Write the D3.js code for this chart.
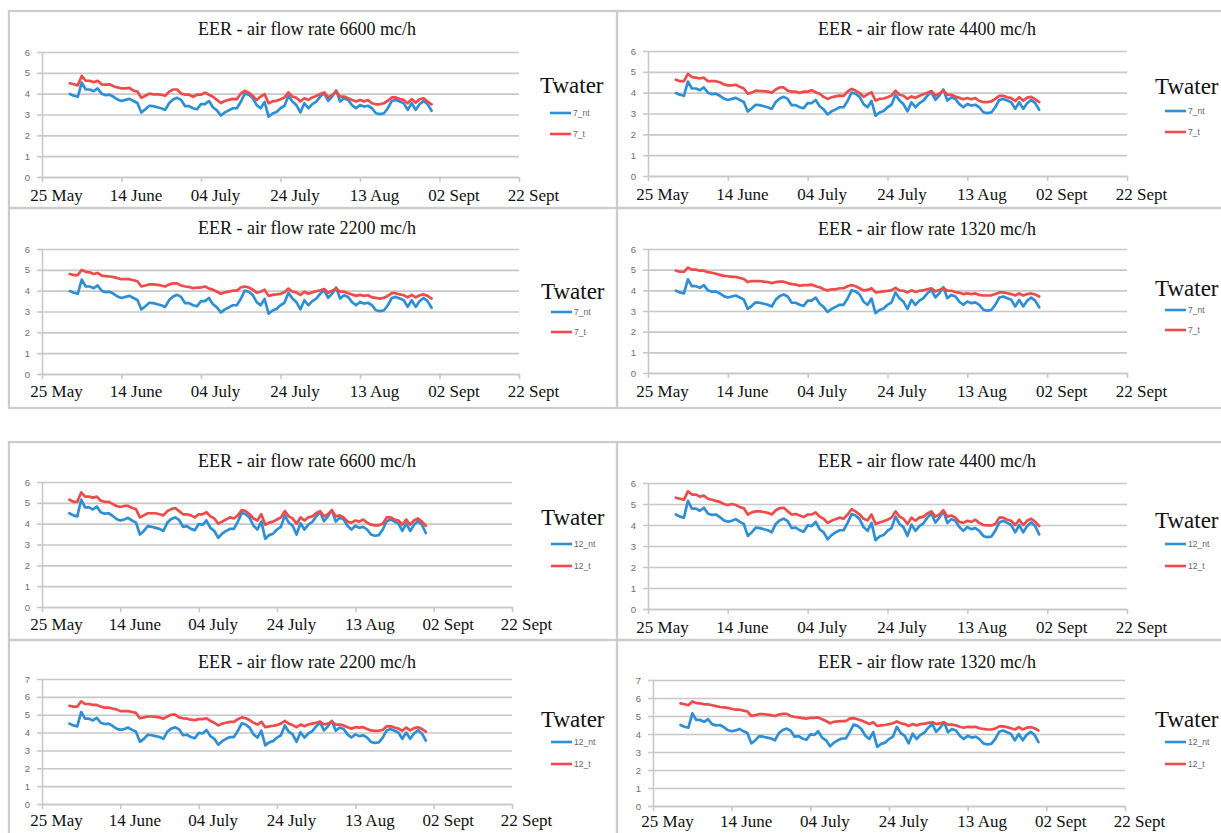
<!DOCTYPE html>
<html>
<head>
<meta charset="utf-8">
<script src="https://cdn.jsdelivr.net/npm/d3@7"></script>
<style>
  body { margin: 0; background: #fff; }
  svg { display: block; }
</style>
</head>
<body>
<svg id="chart" width="1221" height="833"></svg>
<script>
// x axis: day ticks every 20 days, data daily from 1 June
const firstDay = "2015-06-01";
const tickDays = ["2015-05-25", "2015-06-14", "2015-07-04", "2015-07-24", "2015-08-13", "2015-09-02", "2015-09-22"];
const tickLabels = ["25 May", "14 June", "04 July", "24 July", "13 Aug", "02 Sept", "22 Sept"];

const flowRates = [6600, 4400, 2200, 1320, 6600, 4400, 2200, 1320];
const seriesNames = [["7_nt", "7_t"], ["12_nt", "12_t"]];

// Twater 7 - not treated (same in all four top panels)
const nt7 = [
  3.98, 3.90, 3.85, 4.53, 4.20, 4.20, 4.12, 4.25, 4.00, 3.93,
  3.95, 3.85, 3.72, 3.65, 3.70, 3.75, 3.65, 3.55, 3.10, 3.25,
  3.42, 3.40, 3.35, 3.30, 3.22, 3.55, 3.72, 3.80, 3.70, 3.40,
  3.40, 3.30, 3.25, 3.50, 3.50, 3.65, 3.35, 3.20, 2.95, 3.10,
  3.20, 3.30, 3.30, 3.60, 4.00, 3.95, 3.80, 3.45, 3.30, 3.60,
  2.90, 3.05, 3.12, 3.30, 3.42, 3.90, 3.62, 3.45, 3.10, 3.54,
  3.30, 3.50, 3.62, 3.86, 4.02, 3.66, 3.86, 4.15, 3.62, 3.78,
  3.70, 3.45, 3.30, 3.46, 3.38, 3.42, 3.30, 3.06, 3.02, 3.05,
  3.30, 3.65, 3.70, 3.62, 3.54, 3.22, 3.54, 3.22, 3.50, 3.65,
  3.50, 3.18
];

const t7_6600 = [
  4.50, 4.45, 4.40, 4.85, 4.62, 4.62, 4.55, 4.62, 4.45, 4.43,
  4.45, 4.36, 4.30, 4.25, 4.25, 4.28, 4.15, 4.10, 3.80, 3.90,
  4.00, 3.97, 3.97, 3.95, 3.90, 4.10, 4.20, 4.20, 4.00, 3.95,
  3.95, 3.85, 3.95, 3.95, 4.05, 3.95, 3.85, 3.70, 3.55, 3.65,
  3.70, 3.75, 3.73, 4.00, 4.14, 4.05, 3.90, 3.70, 3.86, 3.98,
  3.54, 3.63, 3.66, 3.73, 3.82, 4.06, 3.86, 3.80, 3.63, 3.78,
  3.70, 3.82, 3.89, 3.98, 4.06, 3.82, 3.94, 4.10, 3.86, 3.86,
  3.78, 3.70, 3.62, 3.70, 3.63, 3.70, 3.54, 3.49, 3.49, 3.54,
  3.66, 3.82, 3.82, 3.74, 3.70, 3.54, 3.74, 3.57, 3.73, 3.78,
  3.62, 3.49
];

const t7_4400 = [
  4.62, 4.55, 4.55, 4.90, 4.75, 4.72, 4.68, 4.72, 4.55, 4.55,
  4.55, 4.50, 4.40, 4.35, 4.35, 4.38, 4.28, 4.20, 3.95, 4.00,
  4.10, 4.08, 4.07, 4.05, 4.00, 4.15, 4.25, 4.25, 4.10, 4.05,
  4.05, 3.98, 4.05, 4.05, 4.12, 4.02, 3.95, 3.80, 3.70, 3.78,
  3.82, 3.86, 3.85, 4.05, 4.18, 4.10, 3.98, 3.80, 3.92, 4.02,
  3.62, 3.70, 3.72, 3.78, 3.86, 4.10, 3.90, 3.85, 3.70, 3.82,
  3.75, 3.85, 3.92, 4.00, 4.08, 3.86, 3.96, 4.10, 3.90, 3.90,
  3.82, 3.75, 3.68, 3.74, 3.68, 3.74, 3.60, 3.55, 3.55, 3.58,
  3.70, 3.85, 3.85, 3.78, 3.74, 3.60, 3.78, 3.62, 3.76, 3.80,
  3.68, 3.55
];

const t7_2200 = [
  4.80, 4.75, 4.75, 5.00, 4.90, 4.88, 4.80, 4.85, 4.72, 4.70,
  4.68, 4.65, 4.60, 4.55, 4.55, 4.55, 4.50, 4.45, 4.20, 4.25,
  4.30, 4.30, 4.28, 4.25, 4.20, 4.30, 4.35, 4.35, 4.25, 4.20,
  4.18, 4.12, 4.15, 4.15, 4.20, 4.10, 4.05, 3.95, 3.85, 3.92,
  3.95, 4.00, 4.00, 4.15, 4.20, 4.15, 4.05, 3.90, 3.95, 4.05,
  3.75, 3.80, 3.82, 3.85, 3.92, 4.10, 3.95, 3.92, 3.80, 3.95,
  3.85, 3.92, 3.97, 4.02, 4.08, 3.90, 4.00, 4.10, 3.95, 3.95,
  3.88, 3.82, 3.75, 3.80, 3.75, 3.78, 3.68, 3.65, 3.62, 3.65,
  3.75, 3.88, 3.88, 3.82, 3.78, 3.68, 3.80, 3.68, 3.78, 3.82,
  3.75, 3.62
];

const t7_1320 = [
  4.95, 4.90, 4.90, 5.10, 5.00, 5.00, 4.95, 4.95, 4.88, 4.85,
  4.80, 4.75, 4.70, 4.68, 4.65, 4.65, 4.60, 4.55, 4.40, 4.45,
  4.45, 4.45, 4.42, 4.40, 4.35, 4.40, 4.42, 4.42, 4.35, 4.30,
  4.28, 4.22, 4.25, 4.25, 4.28, 4.20, 4.15, 4.05, 4.00, 4.05,
  4.05, 4.10, 4.10, 4.20, 4.25, 4.20, 4.10, 4.00, 4.02, 4.10,
  3.90, 3.92, 3.95, 3.97, 4.00, 4.12, 4.00, 3.98, 3.90, 4.00,
  3.92, 3.98, 4.00, 4.05, 4.10, 3.95, 4.02, 4.10, 3.98, 3.98,
  3.92, 3.88, 3.82, 3.85, 3.82, 3.85, 3.78, 3.75, 3.75, 3.76,
  3.82, 3.90, 3.90, 3.86, 3.82, 3.75, 3.85, 3.75, 3.82, 3.85,
  3.80, 3.70
];

// Twater 12 - not treated (same in all four bottom panels)
const nt12 = [
  4.50, 4.40, 4.35, 5.15, 4.78, 4.78, 4.68, 4.82, 4.55, 4.48,
  4.50, 4.38, 4.22, 4.15, 4.20, 4.28, 4.15, 4.05, 3.48, 3.65,
  3.88, 3.85, 3.80, 3.75, 3.65, 4.05, 4.22, 4.30, 4.18, 3.85,
  3.88, 3.75, 3.68, 3.98, 3.95, 4.15, 3.80, 3.65, 3.32, 3.52,
  3.65, 3.75, 3.75, 4.10, 4.52, 4.45, 4.28, 3.90, 3.72, 4.10,
  3.28, 3.45, 3.52, 3.72, 3.85, 4.40, 4.05, 3.90, 3.48, 4.02,
  3.72, 3.95, 4.08, 4.35, 4.55, 4.12, 4.35, 4.65, 4.10, 4.28,
  4.20, 3.90, 3.72, 3.90, 3.80, 3.85, 3.72, 3.48, 3.42, 3.45,
  3.72, 4.12, 4.20, 4.10, 4.00, 3.65, 4.00, 3.65, 3.95, 4.12,
  3.95, 3.55
];

const t12_6600 = [
  5.15, 5.05, 5.05, 5.50, 5.30, 5.30, 5.25, 5.30, 5.10, 5.05,
  5.05, 4.95, 4.85, 4.80, 4.85, 4.85, 4.75, 4.70, 4.30, 4.40,
  4.50, 4.50, 4.50, 4.45, 4.40, 4.60, 4.70, 4.75, 4.60, 4.45,
  4.45, 4.40, 4.30, 4.45, 4.45, 4.55, 4.35, 4.25, 4.00, 4.10,
  4.20, 4.30, 4.25, 4.40, 4.65, 4.60, 4.45, 4.25, 4.15, 4.45,
  3.95, 4.05, 4.10, 4.20, 4.30, 4.60, 4.35, 4.25, 4.00, 4.30,
  4.15, 4.30, 4.35, 4.50, 4.60, 4.35, 4.45, 4.65, 4.35, 4.40,
  4.30, 4.10, 4.05, 4.15, 4.10, 4.20, 4.05, 3.95, 3.92, 3.92,
  4.00, 4.30, 4.30, 4.20, 4.15, 3.95, 4.20, 3.95, 4.15, 4.25,
  4.10, 3.90
];

const t12_4400 = [
  5.30, 5.25, 5.20, 5.60, 5.45, 5.45, 5.35, 5.40, 5.25, 5.20,
  5.15, 5.10, 5.00, 4.95, 5.00, 4.95, 4.85, 4.80, 4.50, 4.60,
  4.65, 4.65, 4.62, 4.58, 4.50, 4.70, 4.80, 4.82, 4.65, 4.50,
  4.52, 4.45, 4.38, 4.50, 4.50, 4.60, 4.40, 4.30, 4.10, 4.20,
  4.28, 4.35, 4.30, 4.50, 4.75, 4.65, 4.50, 4.30, 4.22, 4.50,
  4.05, 4.12, 4.18, 4.25, 4.35, 4.65, 4.40, 4.30, 4.05, 4.35,
  4.20, 4.35, 4.40, 4.55, 4.65, 4.40, 4.50, 4.70, 4.40, 4.45,
  4.35, 4.15, 4.10, 4.20, 4.15, 4.25, 4.10, 4.00, 3.98, 3.98,
  4.05, 4.35, 4.35, 4.25, 4.20, 4.00, 4.25, 4.00, 4.20, 4.30,
  4.15, 3.95
];

const t12_2200 = [
  5.50, 5.45, 5.45, 5.75, 5.60, 5.60, 5.55, 5.55, 5.45, 5.40,
  5.40, 5.35, 5.30, 5.20, 5.20, 5.20, 5.15, 5.10, 4.80, 4.85,
  4.90, 4.90, 4.88, 4.85, 4.78, 4.90, 5.00, 5.00, 4.85, 4.80,
  4.78, 4.72, 4.70, 4.75, 4.75, 4.80, 4.65, 4.55, 4.40, 4.50,
  4.55, 4.60, 4.60, 4.75, 4.85, 4.80, 4.70, 4.55, 4.45, 4.60,
  4.30, 4.35, 4.38, 4.42, 4.50, 4.65, 4.50, 4.42, 4.30, 4.45,
  4.35, 4.45, 4.50, 4.55, 4.62, 4.45, 4.50, 4.62, 4.45, 4.45,
  4.40, 4.30, 4.22, 4.30, 4.28, 4.30, 4.20, 4.12, 4.10, 4.10,
  4.15, 4.35, 4.35, 4.28, 4.22, 4.10, 4.28, 4.12, 4.25, 4.30,
  4.20, 4.05
];

const t12_1320 = [
  5.70, 5.65, 5.60, 5.80, 5.72, 5.70, 5.65, 5.65, 5.60, 5.55,
  5.50, 5.48, 5.45, 5.40, 5.35, 5.35, 5.30, 5.25, 5.00, 5.05,
  5.10, 5.10, 5.08, 5.05, 5.00, 5.08, 5.12, 5.12, 5.00, 4.95,
  4.92, 4.88, 4.85, 4.90, 4.90, 4.92, 4.82, 4.72, 4.60, 4.68,
  4.70, 4.72, 4.72, 4.85, 4.88, 4.82, 4.75, 4.65, 4.55, 4.65,
  4.45, 4.48, 4.50, 4.55, 4.60, 4.70, 4.60, 4.55, 4.45, 4.55,
  4.48, 4.55, 4.58, 4.62, 4.65, 4.55, 4.60, 4.65, 4.52, 4.52,
  4.48, 4.40, 4.35, 4.40, 4.38, 4.40, 4.32, 4.28, 4.25, 4.25,
  4.30, 4.42, 4.42, 4.38, 4.32, 4.25, 4.38, 4.25, 4.35, 4.38,
  4.32, 4.20
];

const tSeries = [t7_6600, t7_4400, t7_2200, t7_1320, t12_6600, t12_4400, t12_2200, t12_1320];

// panel layout (box: x, y, w, h; plot: left, right, top, bottom)
const layout = [
  { box: [9, 11, 608, 197],   plot: [42, 519, 52, 177],   ymax: 6, pad: 7, titleX: 307, titleY: 35,  leg: [540, 93, 113, 134] },
  { box: [617, 11, 620, 197], plot: [648, 1127, 51, 176], ymax: 6, pad: 7, titleX: 927, titleY: 35,  leg: [1155, 94, 111, 132] },
  { box: [9, 208, 608, 200],  plot: [42, 519, 249, 374],  ymax: 6, pad: 6, titleX: 307, titleY: 234, leg: [541, 299, 312, 332] },
  { box: [617, 208, 620, 200],plot: [648, 1127, 249, 373],ymax: 6, pad: 7, titleX: 927, titleY: 235, leg: [1155, 296, 310, 330] },
  { box: [9, 442, 608, 198],  plot: [42, 512, 482, 607],  ymax: 6, pad: 6, titleX: 307, titleY: 467, leg: [541, 525, 544, 566] },
  { box: [617, 442, 620, 198],plot: [648, 1127, 483, 609],ymax: 6, pad: 7, titleX: 927, titleY: 467, leg: [1155, 528, 544, 566] },
  { box: [9, 640, 608, 200],  plot: [42, 512, 679, 804],  ymax: 7, pad: 5, titleX: 307, titleY: 668, leg: [541, 727, 742, 764] },
  { box: [617, 640, 620, 200],plot: [653, 1125, 680, 806],ymax: 7, pad: 4, titleX: 927, titleY: 668, leg: [1155, 727, 742, 764] }
];

const BLUE = "#2f8fd5";
const RED = "#ef4b4b";
const GRID = "#c8c8c8";

const parse = d3.utcParse("%Y-%m-%d");
const tickDates = tickDays.map(parse);
const start = parse(firstDay);

const svg = d3.select("#chart");

layout.forEach((L, i) => {
  const group = i < 4 ? 0 : 1;
  const nt = group === 0 ? nt7 : nt12;
  const t = tSeries[i];
  const [left, right, top, bottom] = L.plot;

  const x = d3.scaleUtc()
    .domain([tickDates[0], tickDates[tickDates.length - 1]])
    .range([left, right]);
  const y = d3.scaleLinear().domain([0, L.ymax]).range([bottom, top]);

  const g = svg.append("g").attr("class", "panel");

  // panel frame
  g.append("rect")
    .attr("x", L.box[0]).attr("y", L.box[1])
    .attr("width", L.box[2]).attr("height", L.box[3])
    .attr("fill", "none")
    .attr("stroke", "#cccccc")
    .attr("stroke-width", 2.2);

  // title
  g.append("text")
    .attr("x", L.titleX).attr("y", L.titleY)
    .attr("text-anchor", "middle")
    .attr("font-family", "Liberation Serif, Times New Roman, serif")
    .attr("font-size", 18)
    .attr("fill", "#111")
    .text(`EER - air flow rate ${flowRates[i]} mc/h`);

  // gridlines
  g.append("g")
    .attr("transform", `translate(${left},0)`)
    .call(d3.axisLeft(y).ticks(L.ymax).tickSize(-(right - left)).tickFormat(""))
    .call(a => a.select(".domain").remove())
    .call(a => a.selectAll("line").attr("stroke", GRID).attr("stroke-width", 1.6));

  // y axis
  g.append("g")
    .attr("transform", `translate(${left},0)`)
    .call(d3.axisLeft(y).ticks(L.ymax).tickSizeInner(5).tickSizeOuter(0).tickPadding(7))
    .call(a => a.select(".domain").attr("stroke", GRID).attr("stroke-width", 1.6))
    .call(a => a.selectAll("line").attr("stroke", GRID).attr("stroke-width", 1.6))
    .call(a => a.selectAll("text")
      .attr("font-family", "Liberation Sans, Arial, sans-serif")
      .attr("font-size", 9.5)
      .attr("fill", "#6e6e6e"));

  // x axis
  g.append("g")
    .attr("transform", `translate(0,${bottom})`)
    .call(d3.axisBottom(x).tickValues(tickDates)
      .tickFormat((d, k) => tickLabels[k])
      .tickSizeInner(5).tickSizeOuter(0).tickPadding(L.pad))
    .call(a => a.select(".domain").attr("stroke", GRID).attr("stroke-width", 1.6))
    .call(a => a.selectAll("line").attr("stroke", GRID).attr("stroke-width", 1.6))
    .call(a => a.selectAll("text")
      .attr("dx", 14)
      .attr("font-family", "Liberation Serif, Times New Roman, serif")
      .attr("font-size", 17)
      .attr("fill", "#111"));

  // series lines
  const line = d3.line()
    .x((d, k) => x(d3.utcDay.offset(start, k)))
    .y(d => y(d));

  [[nt, BLUE], [t, RED]].forEach(([vals, col]) => {
    g.append("path")
      .datum(vals)
      .attr("d", line)
      .attr("fill", "none")
      .attr("stroke", col)
      .attr("stroke-width", 2.7)
      .attr("stroke-linejoin", "round")
      .attr("stroke-linecap", "round");
  });

  // legend
  const [lx, ty, ly1, ly2] = L.leg;
  g.append("text")
    .attr("x", lx).attr("y", ty)
    .attr("font-family", "Liberation Serif, Times New Roman, serif")
    .attr("font-size", 23)
    .attr("fill", "#111")
    .text("Twater");

  [[ly1, BLUE, seriesNames[group][0]], [ly2, RED, seriesNames[group][1]]].forEach(([yy, col, name]) => {
    g.append("line")
      .attr("x1", lx + 10).attr("x2", lx + 31)
      .attr("y1", yy).attr("y2", yy)
      .attr("stroke", col)
      .attr("stroke-width", 2.6);
    g.append("text")
      .attr("x", lx + 33).attr("y", yy + 3)
      .attr("font-family", "Liberation Sans, Arial, sans-serif")
      .attr("font-size", 8.5)
      .attr("fill", "#666")
      .text(name);
  });
});
</script>
</body>
</html>
